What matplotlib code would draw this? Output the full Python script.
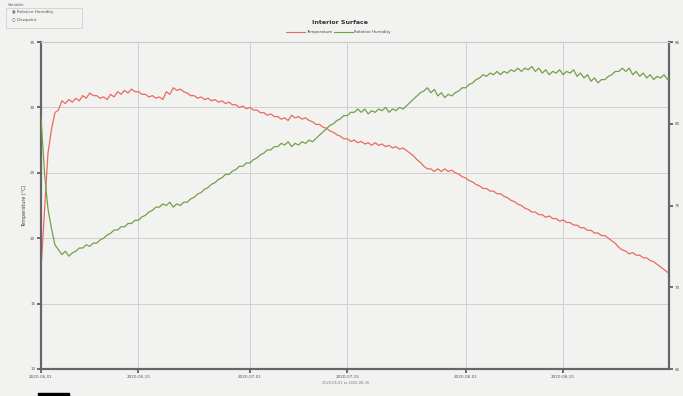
from matplotlib import pyplot as plt
from matplotlib.patches import Rectangle
import matplotlib.dates as mdates
import pandas as pd

# readings every 12 hours, starting 2020-06-01
temperature = [
    17.6, 22.0, 26.5, 28.3, 29.6, 29.8, 30.5, 30.3, 30.6, 30.4,
    30.7, 30.5, 30.9, 30.7, 31.1, 30.9, 30.9, 30.7, 30.8, 30.6,
    31.0, 30.8, 31.2, 31.0, 31.3, 31.1, 31.4, 31.2, 31.2, 31.0,
    31.0, 30.8, 30.9, 30.7, 30.8, 30.6, 31.2, 31.0, 31.5, 31.3,
    31.4, 31.2, 31.1, 30.9, 30.9, 30.7, 30.8, 30.6, 30.7, 30.5,
    30.6, 30.4, 30.5, 30.3, 30.4, 30.2, 30.2, 30.0, 30.1, 29.9,
    30.0, 29.8, 29.8, 29.6, 29.6, 29.4, 29.5, 29.3, 29.3, 29.1,
    29.2, 29.0, 29.4, 29.2, 29.3, 29.1, 29.2, 29.0, 28.9, 28.7,
    28.7, 28.5, 28.4, 28.2, 28.1, 27.9, 27.8, 27.6, 27.6, 27.4,
    27.5, 27.3, 27.4, 27.2, 27.3, 27.1, 27.3, 27.1, 27.2, 27.0,
    27.1, 26.9, 27.0, 26.8, 26.9, 26.7, 26.5, 26.3, 26.0, 25.8,
    25.5, 25.3, 25.3, 25.1, 25.3, 25.1, 25.3, 25.1, 25.2, 25.0,
    24.9, 24.7, 24.6, 24.4, 24.3, 24.1, 24.0, 23.8, 23.8, 23.6,
    23.6, 23.4, 23.4, 23.2, 23.1, 22.9, 22.8, 22.6, 22.5, 22.3,
    22.2, 22.0, 22.0, 21.8, 21.8, 21.6, 21.7, 21.5, 21.5, 21.3,
    21.4, 21.2, 21.2, 21.0, 21.0, 20.8, 20.8, 20.6, 20.6, 20.4,
    20.4, 20.2, 20.2, 20.0, 19.8, 19.6, 19.3, 19.1, 19.0, 18.8,
    18.9, 18.7, 18.7, 18.5, 18.5, 18.3, 18.2, 18.0, 17.8, 17.6,
    17.4, 17.2,
]
humidity = [
    80.4, 77.0, 74.8, 73.6, 72.6, 72.3, 72.0, 72.2, 71.9, 72.1,
    72.2, 72.4, 72.4, 72.6, 72.5, 72.7, 72.7, 72.9, 73.0, 73.2,
    73.3, 73.5, 73.5, 73.7, 73.7, 73.9, 73.9, 74.1, 74.1, 74.3,
    74.4, 74.6, 74.7, 74.9, 74.9, 75.1, 75.0, 75.2, 74.9, 75.1,
    75.0, 75.2, 75.2, 75.4, 75.5, 75.7, 75.8, 76.0, 76.1, 76.3,
    76.4, 76.6, 76.7, 76.9, 76.9, 77.1, 77.2, 77.4, 77.4, 77.6,
    77.6, 77.8, 77.9, 78.1, 78.2, 78.4, 78.4, 78.6, 78.6, 78.8,
    78.7, 78.9, 78.6, 78.8, 78.7, 78.9, 78.8, 79.0, 78.9, 79.1,
    79.3, 79.5, 79.7, 79.9, 80.0, 80.2, 80.3, 80.5, 80.5, 80.7,
    80.7, 80.9, 80.7, 80.9, 80.6, 80.8, 80.7, 80.9, 80.8, 81.0,
    80.7, 80.9, 80.8, 81.0, 80.9, 81.1, 81.3, 81.5, 81.7, 81.9,
    82.0, 82.2, 81.9, 82.1, 81.7, 81.9, 81.6, 81.8, 81.7, 81.9,
    82.0, 82.2, 82.2, 82.4, 82.5, 82.7, 82.8, 83.0, 82.9, 83.1,
    83.0, 83.2, 83.0, 83.2, 83.1, 83.3, 83.2, 83.4, 83.2, 83.4,
    83.3, 83.5, 83.2, 83.4, 83.1, 83.3, 83.0, 83.2, 83.1, 83.3,
    83.0, 83.2, 83.1, 83.3, 82.9, 83.1, 82.8, 83.0, 82.6, 82.8,
    82.5, 82.7, 82.7, 82.9, 83.0, 83.2, 83.2, 83.4, 83.2, 83.4,
    83.0, 83.2, 82.9, 83.1, 82.8, 83.0, 82.7, 82.9, 82.8, 83.0,
    82.7, 82.9,
]
times = pd.date_range('2020-06-01', periods=len(temperature), freq='12h')
temp_ticks = [10, 15, 20, 25, 30, 35]
rh_ticks = [65, 70, 75, 80, 85]
date_ticks = pd.to_datetime(['2020-06-01', '2020-06-15', '2020-07-01',
                             '2020-07-15', '2020-08-01', '2020-08-15'])

bg = '#f2f2f1'
fig = plt.figure(figsize=(6.83, 3.96), dpi=100, facecolor=bg)
ax = fig.add_axes([41/683, 27/396, 628/683, 327/396], facecolor=bg)
ax2 = ax.twinx()

ax.plot(times, temperature, color='#ea6a60', lw=0.9, zorder=3)
ax2.plot(times, humidity, color='#74a048', lw=0.9, zorder=3)

ax.set_xlim(pd.Timestamp('2020-06-01'), pd.Timestamp('2020-08-30 05:00'))
ax.set_ylim(10, 35)
ax2.set_ylim(65, 85)
ax.set_yticks(temp_ticks)
ax2.set_yticks(rh_ticks)
ax.set_xticks(date_ticks)
ax.xaxis.set_major_formatter(mdates.DateFormatter('%Y-%m-%d'))

ax.grid(True, color='#cfcfcf', lw=0.7)
for a in (ax, ax2):
    a.tick_params(labelsize=3, colors='#555555', length=3, width=1.2, pad=1)
    for side in ('left', 'bottom', 'right'):
        a.spines[side].set_color('#666666')
        a.spines[side].set_linewidth(1.5)
    a.spines['top'].set_color('#cccccc')
    a.spines['top'].set_linewidth(0.8)
ax.set_ylabel('Temperature (°C)', fontsize=3.5, color='#444444', labelpad=2)

# header: selector, title and legend
fig.text(8/683, 1 - 5/396, 'Variable', fontsize=3, color='#666666', va='center')
fig.patches.append(Rectangle((6/683, 1 - 28/396), 76/683, 20/396, transform=fig.transFigure,
                             fill=False, ec='#d0d0d0', lw=0.6))
fig.text(12/683, 1 - 12/396, '◉ Relative Humidity', fontsize=3, color='#555555', va='center')
fig.text(12/683, 1 - 20/396, '○ Dewpoint', fontsize=3, color='#555555', va='center')

fig.text(340/683, 1 - 22/396, 'Interior Surface', fontsize=4.5, fontweight='bold',
         color='#333333', ha='center', va='center')
fig.lines.append(plt.Line2D([286/683, 305/683], [1 - 32/396] * 2, color='#ea6a60', lw=0.8,
                            transform=fig.transFigure))
fig.text(306/683, 1 - 32/396, 'Temperature', fontsize=3, color='#444444', va='center')
fig.lines.append(plt.Line2D([334/683, 353/683], [1 - 32/396] * 2, color='#74a048', lw=0.8,
                            transform=fig.transFigure))
fig.text(354/683, 1 - 32/396, 'Relative Humidity', fontsize=3, color='#444444', va='center')

fig.text(345/683, 1 - 383/396, '2020-06-01 to 2020-08-30', fontsize=2.5, color='#777777',
         ha='center', va='center')
fig.patches.append(Rectangle((38/683, 0), 31/683, 3/396, transform=fig.transFigure,
                             color='black'))

plt.savefig('out.png', dpi=100, facecolor=bg)
